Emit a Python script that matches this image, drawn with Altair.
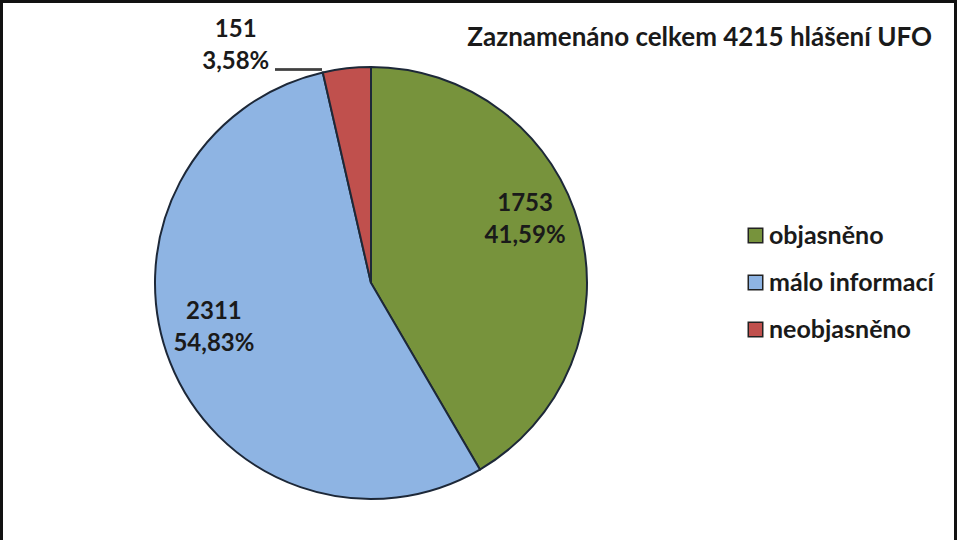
import math
import altair as alt
import pandas as pd

# ---- data ----
categories = ["objasněno", "málo informací", "neobjasněno"]
counts = [1753, 2311, 151]
percents = ["41,59%", "54,83%", "3,58%"]
colors = ["#77933C", "#8EB4E3", "#C0504D"]
title_text = "Zaznamenáno celkem 4215 hlášení UFO"

total = sum(counts)
df = pd.DataFrame({
    "idx": list(range(len(categories))),
    "kat": categories,
    "count": counts,
    "pct": percents,
})
df["label"] = [f"{c}\n{p}" for c, p in zip(counts, percents)]

FONT = "Lato"
TXT = "#1a1a1a"
CX, CY, R = 371, 283, 216

theta_scale = alt.Scale(domain=[0, total], range=[0, 2 * math.pi])
color_scale = alt.Scale(domain=categories, range=colors)

base = (
    alt.Chart(df)
    .transform_window(cum="sum(count)", sort=[alt.SortField("idx")], frame=[None, 0])
    .transform_calculate(start="datum.cum - datum.count", mid="datum.cum - datum.count/2")
)

arcs = base.mark_arc(outerRadius=R, stroke="#1d2838", strokeWidth=2).encode(
    theta=alt.Theta("start:Q", scale=theta_scale),
    theta2="cum:Q",
    x=alt.value(CX),
    y=alt.value(CY),
    color=alt.Color(
        "kat:N",
        scale=color_scale,
        sort=categories,
        legend=alt.Legend(
            title=None,
            orient="none",
            legendX=743,
            legendY=223,
            symbolType="square",
            symbolSize=210,
            symbolStrokeColor="#222222",
            symbolStrokeWidth=1.5,
            labelFont=FONT,
            labelFontSize=25,
            labelFontWeight="bold",
            labelColor=TXT,
            labelLimit=400,
            rowPadding=21,
            labelOffset=1,
        ),
    ),
)


def label_layer(cat, radius, dx, dy):
    return (
        base.transform_filter(alt.datum.kat == cat)
        .mark_text(
            radius=radius, dx=dx, dy=dy, lineBreak="\n", font=FONT, fontSize=24,
            fontWeight="bold", color=TXT, align="center", baseline="middle", lineHeight=32,
        )
        .encode(
            theta=alt.Theta("mid:Q", scale=theta_scale),
            x=alt.value(CX),
            y=alt.value(CY),
            text="label:N",
        )
    )


lab_green = label_layer(categories[0], 170, -10, -35)
lab_blue = label_layer(categories[1], 170, 1, -34)
lab_red = label_layer(categories[2], 216, -111, -38)

leader = alt.Chart(df).mark_rule(color="#404040", strokeWidth=2).encode(
    x=alt.value(275), x2=alt.value(322), y=alt.value(69.5)
)

title = alt.Chart(pd.DataFrame({"t": [title_text]})).mark_text(
    align="right", baseline="middle", font=FONT, fontSize=26, fontWeight="bold", color=TXT
).encode(text="t:N", x=alt.value(932), y=alt.value(38))

frame_l = alt.Chart(df).mark_rule(color="#111111", strokeWidth=3).encode(
    x=alt.value(1.5), y=alt.value(0), y2=alt.value(540))
frame_t = alt.Chart(df).mark_rule(color="#111111", strokeWidth=3).encode(
    x=alt.value(0), x2=alt.value(957), y=alt.value(1.5))
frame_r = alt.Chart(df).mark_rule(color="#111111", strokeWidth=3).encode(
    x=alt.value(955.5), y=alt.value(0), y2=alt.value(540))

chart = (
    alt.layer(arcs, lab_green, lab_blue, lab_red, leader, title, frame_l, frame_t, frame_r)
    .properties(width=960, height=540, autosize=alt.AutoSizeParams(type="none"), padding=0,
                background="white")
    .configure_view(stroke=None)
)

chart.save("out.html", embed_options={"renderer": "svg", "actions": False})
